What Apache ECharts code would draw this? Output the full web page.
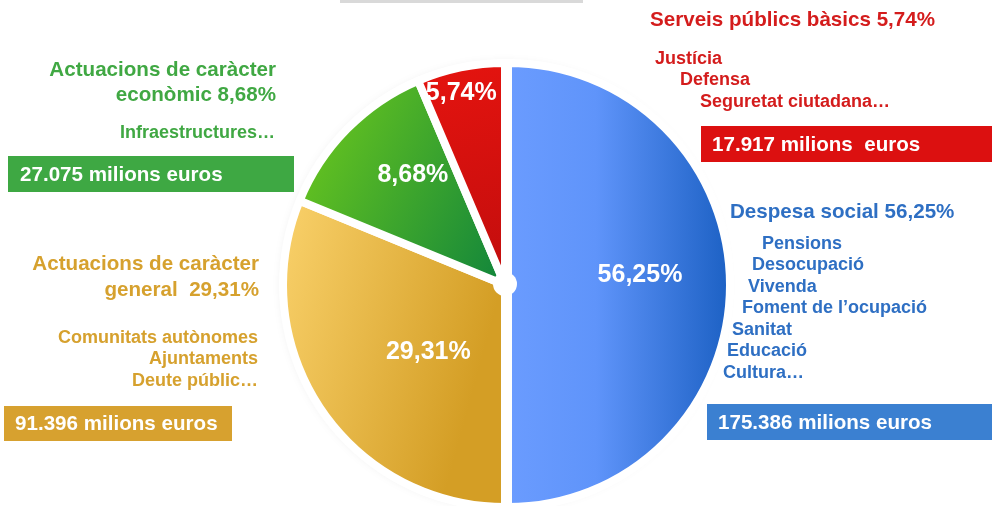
<!DOCTYPE html>
<html>
<head>
<meta charset="utf-8">
<script src="https://cdn.jsdelivr.net/npm/echarts@6/dist/echarts.min.js"></script>
<style>
  html, body { margin: 0; padding: 0; background: #fff; }
  #main { width: 992px; height: 506px; }
</style>
</head>
<body>
<div id="main"></div>
<script>
// dades
const categories = ['Despesa social', 'Actuacions de caràcter general', 'Actuacions de caràcter econòmic', 'Serveis públics bàsics']
const percentLabels = ['56,25%', '29,31%', '8,68%', '5,74%']
// mida de cada sector tal com està dibuixat a la imatge (%)
const sliceShares = [50, 31.2, 12.4, 6.4]
const amounts = ['175.386 milions euros', '91.396 milions euros', '27.075 milions euros', '17.917 milions  euros']
const titles = [
    ['Despesa social 56,25%'],
    ['Actuacions de caràcter', 'general  29,31%'],
    ['Actuacions de caràcter', 'econòmic 8,68%'],
    ['Serveis públics bàsics 5,74%']
]
const subItems = [
    ['Pensions', 'Desocupació', 'Vivenda', 'Foment de l’ocupació', 'Sanitat', 'Educació', 'Cultura…'],
    ['Comunitats autònomes', 'Ajuntaments', 'Deute públic…'],
    ['Infraestructures…'],
    ['Justícia', 'Defensa', 'Seguretat ciutadana…']
]

const FONT = 'Liberation Sans'
const textColors = ['#2e6fc3', '#d6a12e', '#40a843', '#d41c1c']
const boxColors = ['#3b80d1', '#d7a12f', '#3ea843', '#dc1010']

const grad = (x, y, x2, y2, stops) => new echarts.graphic.LinearGradient(x, y, x2, y2,
    stops.map(c => ({ offset: c[0], color: c[1] })))
const sliceColors = [
    grad(0, 0, 1, 0, [[0, '#6b9cff'], [0.4, '#5f94fa'], [1, '#1a5fc2']]),
    grad(0, 0, 1, 0.2, [[0, '#fad26c'], [1, '#d49e25']]),
    grad(0, 0.3, 1, 0.8, [[0, '#6ac61e'], [1, '#15883a']]),
    grad(0, 0, 0.6, 1, [[0, '#e6140f'], [1, '#c20d0d']])
]
const labelOffsets = [[18, -10], [18, 4], [-11, -30], [-21, -80]]

// posicions dels blocs de text
const titleLayout = [
    { x: 730, y: 212, align: 'left', lh: 26 },
    { x: 259, y: 264, align: 'right', lh: 26 },
    { x: 276, y: 70, align: 'right', lh: 25 },
    { x: 650, y: 20, align: 'left', lh: 26 }
]
const itemLayout = [
    { xs: [762, 752, 748, 742, 732, 727, 723], y: 244, lh: 21.5, align: 'left' },
    { xs: [258, 258, 258], y: 338, lh: 21.5, align: 'right' },
    { xs: [275], y: 133, lh: 21, align: 'right' },
    { xs: [655, 680, 700], y: 59, lh: 21.5, align: 'left' }
]
const boxLayout = [
    { x: 707, y: 404, w: 290, h: 36, tx: 718 },
    { x: 4, y: 406, w: 228, h: 35, tx: 15 },
    { x: 8, y: 156, w: 286, h: 36, tx: 20 },
    { x: 701, y: 126, w: 295, h: 36, tx: 712 }
]

const graphics = [
    { type: 'rect', shape: { x: 340, y: -2, width: 243, height: 5 }, style: { fill: '#d9d9d9' } }
]
categories.forEach((c, i) => {
    const t = titleLayout[i]
    titles[i].forEach((line, j) => {
        graphics.push({ type: 'text', x: t.x, y: t.y + j * t.lh,
            style: { text: line, fill: textColors[i], font: `bold 20.6px "${FONT}"`, align: t.align, verticalAlign: 'middle' } })
    })
    const it = itemLayout[i]
    subItems[i].forEach((line, j) => {
        graphics.push({ type: 'text', x: it.xs[j], y: it.y + j * it.lh,
            style: { text: line, fill: textColors[i], font: `bold 18px "${FONT}"`, align: it.align, verticalAlign: 'middle' } })
    })
    const b = boxLayout[i]
    graphics.push({ type: 'rect', shape: { x: b.x, y: b.y, width: b.w, height: b.h }, style: { fill: boxColors[i] } })
    graphics.push({ type: 'text', x: b.tx, y: b.y + b.h / 2 + 1,
        style: { text: amounts[i], fill: '#fff', font: `bold 20.6px "${FONT}"`, align: 'left', verticalAlign: 'middle' } })
})

let myChart = echarts.init(document.getElementById('main'))
let option = {
    animation: false,
    backgroundColor: '#fff',
    graphic: graphics,
    series: [
        {
            // ombra suau sota el pastís
            type: 'pie', center: [504, 285], radius: 217, silent: true, z: 1,
            label: { show: false }, labelLine: { show: false },
            itemStyle: { color: '#fff', shadowBlur: 14, shadowColor: 'rgba(0,0,0,0.22)' },
            data: [{ value: 1 }]
        },
        {
            type: 'pie',
            center: [505, 285],
            radius: 222,
            startAngle: 90,
            clockwise: true,
            selectedMode: 'single',
            selectedOffset: 3,
            avoidLabelOverlap: false,
            z: 2,
            emphasis: { disabled: true },
            label: {
                show: true, position: 'inside',
                formatter: p => percentLabels[p.dataIndex],
                color: '#fff', fontSize: 25, fontWeight: 'bold', fontFamily: FONT
            },
            labelLine: { show: false },
            itemStyle: { borderColor: '#fff', borderWidth: 8 },
            data: categories.map((c, i) => ({
                name: c,
                value: sliceShares[i],
                selected: i === 0,
                itemStyle: { color: sliceColors[i] },
                label: { offset: labelOffsets[i] },
                select: { label: { offset: labelOffsets[i] } }
            }))
        },
        {
            // cercle blanc al centre
            type: 'pie', center: [505, 284], radius: 12, silent: true, z: 3,
            label: { show: false }, labelLine: { show: false },
            itemStyle: { color: '#fff' },
            data: [{ value: 1 }]
        }
    ]
}
myChart.setOption(option)
</script>
</body>
</html>
